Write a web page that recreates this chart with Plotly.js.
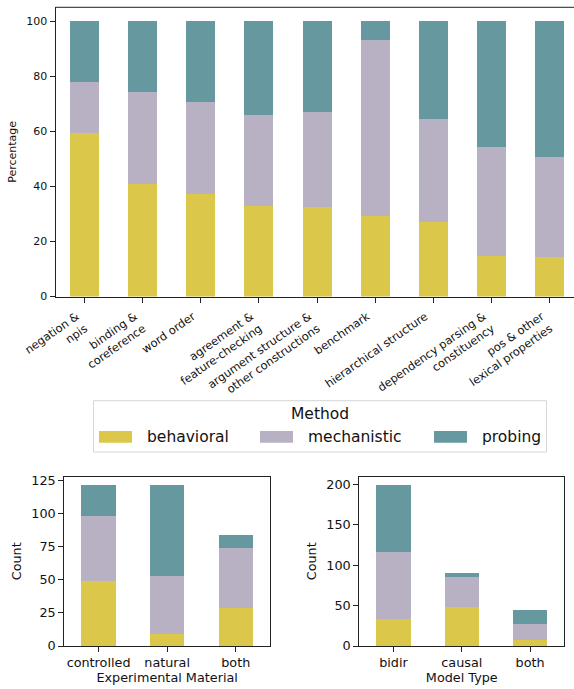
<!DOCTYPE html>
<html>
<head>
<meta charset="utf-8">
<script src="https://cdn.plot.ly/plotly-3.0.1.min.js"></script>
<style>
html,body{margin:0;padding:0;background:#fff;}
#chart{width:574px;height:689px;}
</style>
</head>
<body>
<div id="chart"></div>
<script>
// ---------- data ----------
const methods = ["behavioral", "mechanistic", "probing"];
const methodColors = ["#dbc74a", "#b8b0c3", "#66999f"];

// top panel: percentage by phenomenon
const phenomena = [
  "negation &<br>npis",
  "binding &<br>coreference",
  "word order",
  "agreement &<br>feature-checking",
  "argument structure &<br>other constructions",
  "benchmark",
  "hierarchical structure",
  "dependency parsing &<br>constituency",
  "pos & other<br>lexical properties"
];
const pctBehavioral  = [59.3, 40.8, 37.2, 32.8, 32.4, 29.2, 27.0, 14.7, 14.2];
const pctMechanistic = [18.5, 33.4, 33.3, 33.0, 34.5, 63.9, 37.4, 39.5, 36.3];
const pctProbing     = [22.2, 25.8, 29.5, 34.2, 33.1, 6.9, 35.6, 45.8, 49.5];

// bottom left: experimental material counts
const materials = ["controlled", "natural", "both"];
const matBehavioral  = [49, 9, 29];
const matMechanistic = [49, 44, 45];
const matProbing     = [24, 69, 10];

// bottom right: model type counts
const modelTypes = ["bidir", "causal", "both"];
const mtBehavioral  = [33, 48, 8];
const mtMechanistic = [83, 37, 19];
const mtProbing     = [84, 6, 18];

// ---------- figure ----------
const W = 574, H = 689;
const px = v => v / W;
const py = v => 1 - v / H;
const FONT = "DejaVu Sans";
const TXT = "#111";

const topSeries = [pctBehavioral, pctMechanistic, pctProbing];
const matSeries = [matBehavioral, matMechanistic, matProbing];
const mtSeries  = [mtBehavioral, mtMechanistic, mtProbing];

const traces = [];
methods.forEach((m, i) => {
  traces.push({type: "bar", name: m, x: phenomena, y: topSeries[i], xaxis: "x", yaxis: "y",
    width: 0.5, marker: {color: methodColors[i], line: {width: 0}}, showlegend: false});
  traces.push({type: "bar", name: m, x: materials, y: matSeries[i], xaxis: "x2", yaxis: "y2",
    width: 0.5, marker: {color: methodColors[i], line: {width: 0}}, showlegend: false});
  traces.push({type: "bar", name: m, x: modelTypes, y: mtSeries[i], xaxis: "x3", yaxis: "y3",
    width: 0.5, marker: {color: methodColors[i], line: {width: 0}}, showlegend: false});
});

const axisCommon = {
  showline: true, linecolor: "#222", linewidth: 1,
  ticks: "outside", ticklen: 5, tickwidth: 1, tickcolor: "#222",
  showgrid: false, zeroline: false, automargin: false, fixedrange: true
};

const shapes = [
  // top spine of upper panel (right side is cut by the figure edge)
  {type: "line", xref: "x domain", yref: "y domain", x0: 0, x1: 1, y0: 1, y1: 1, line: {color: "#222", width: 1}},
  // legend frame
  {type: "rect", xref: "paper", yref: "paper", x0: px(93.5), x1: px(546.5), y0: py(452), y1: py(400.7),
   line: {color: "#d6d6d6", width: 1}, fillcolor: "rgba(255,255,255,0.8)"}
];
const annotations = [
  {xref: "paper", yref: "paper", x: px(320), y: py(414), text: "Method", showarrow: false,
   xanchor: "center", yanchor: "middle", font: {family: FONT, size: 15.5, color: TXT}}
];
const swX = [99, 260, 434];
const txX = [145, 306, 480];
methods.forEach((m, i) => {
  shapes.push({type: "rect", xref: "paper", yref: "paper", x0: px(swX[i]), x1: px(swX[i] + 33),
    y0: py(442.7), y1: py(431), line: {width: 0}, fillcolor: methodColors[i]});
  annotations.push({xref: "paper", yref: "paper", x: px(txX[i]), y: py(437), text: m, showarrow: false,
    xanchor: "left", yanchor: "middle", font: {family: FONT, size: 15.5, color: TXT}});
});

const layout = {
  width: W, height: H,
  margin: {l: 0, r: 0, t: 0, b: 0, pad: 0},
  paper_bgcolor: "#fff", plot_bgcolor: "#fff",
  barmode: "stack", bargap: 0,
  font: {family: FONT, color: TXT},
  showlegend: false,
  xaxis: Object.assign({}, axisCommon, {
    domain: [px(55.5), 1], anchor: "y", type: "category", range: [-0.5, 8.42],
    tickangle: -35, tickfont: {family: FONT, size: 11.4, color: TXT},
    ticklabelshift: -8, ticklabelstandoff: 3
  }),
  yaxis: Object.assign({}, axisCommon, {
    domain: [py(296.5), py(7.3)], anchor: "x", range: [0, 105],
    tickvals: [0, 20, 40, 60, 80, 100], tickfont: {family: FONT, size: 11, color: TXT},
    title: {text: "Percentage", standoff: 7, font: {family: FONT, size: 11, color: TXT}}
  }),
  xaxis2: Object.assign({}, axisCommon, {
    domain: [px(64.3), px(270)], anchor: "y2", type: "category", range: [-0.5, 2.5], mirror: true,
    tickfont: {family: FONT, size: 12.8, color: TXT},
    title: {text: "Experimental Material", standoff: 3, font: {family: FONT, size: 12.8, color: TXT}}
  }),
  yaxis2: Object.assign({}, axisCommon, {
    domain: [py(646), py(476.5)], anchor: "x2", range: [0, 128.1], mirror: true,
    tickvals: [0, 25, 50, 75, 100, 125], tickfont: {family: FONT, size: 12.8, color: TXT},
    title: {text: "Count", standoff: 6, font: {family: FONT, size: 12.8, color: TXT}}
  }),
  xaxis3: Object.assign({}, axisCommon, {
    domain: [px(359.3), px(564.3)], anchor: "y3", type: "category", range: [-0.5, 2.5], mirror: true,
    tickfont: {family: FONT, size: 12.8, color: TXT},
    title: {text: "Model Type", standoff: 3, font: {family: FONT, size: 12.8, color: TXT}}
  }),
  yaxis3: Object.assign({}, axisCommon, {
    domain: [py(646), py(476.5)], anchor: "x3", range: [0, 210], mirror: true,
    tickvals: [0, 50, 100, 150, 200], tickfont: {family: FONT, size: 12.8, color: TXT},
    title: {text: "Count", standoff: 6, font: {family: FONT, size: 12.8, color: TXT}}
  }),
  shapes: shapes,
  annotations: annotations
};

Plotly.newPlot("chart", traces, layout, {displayModeBar: false, staticPlot: true});
</script>
</body>
</html>
